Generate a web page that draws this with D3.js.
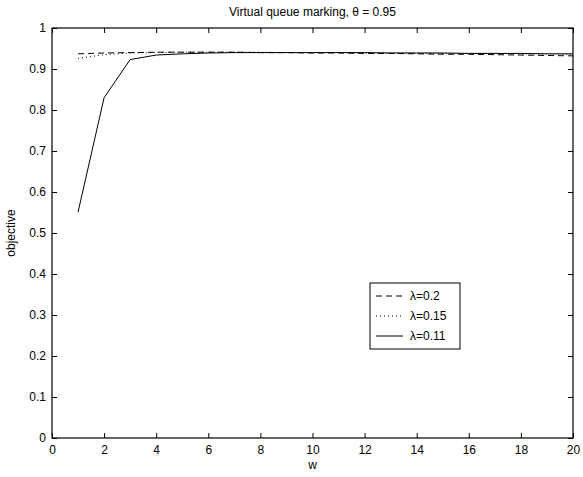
<!DOCTYPE html>
<html>
<head>
<meta charset="utf-8">
<script src="https://cdn.jsdelivr.net/npm/d3@7"></script>
<style>
  body { margin: 0; background: #fff; }
  text { font-family: "Liberation Sans", Arial, sans-serif; }
</style>
</head>
<body>
<svg width="583" height="477"></svg>
<script>
const wValues = d3.range(1, 21);
const lambda02 = [0.937, 0.939, 0.940, 0.941, 0.941, 0.941, 0.941, 0.940, 0.940, 0.939,
  0.939, 0.938, 0.938, 0.937, 0.936, 0.936, 0.935, 0.934, 0.933, 0.932];
const lambda015 = [0.926, 0.935, 0.939, 0.940, 0.941, 0.941, 0.941, 0.941, 0.940, 0.940,
  0.940, 0.939, 0.939, 0.939, 0.938, 0.938, 0.938, 0.937, 0.937, 0.936];
const lambda011 = [0.551, 0.830, 0.923, 0.934, 0.937, 0.939, 0.940, 0.940, 0.940, 0.940,
  0.940, 0.940, 0.939, 0.939, 0.939, 0.938, 0.938, 0.938, 0.937, 0.937];
const seriesNames = ["λ=0.2", "λ=0.15", "λ=0.11"];
const xTicks = d3.range(0, 21, 2);
const yTicks = d3.range(0, 11).map(d => d / 10);

const svg = d3.select("svg");
const plotLeft = 52, plotRight = 573, plotTop = 28, plotBottom = 438;

const x = d3.scaleLinear().domain([0, 20]).range([plotLeft, plotRight]);
const y = d3.scaleLinear().domain([0, 1]).range([plotBottom, plotTop]);

const series = [
  { name: seriesNames[0], values: lambda02, dash: "6,4" },
  { name: seriesNames[1], values: lambda015, dash: "1,3" },
  { name: seriesNames[2], values: lambda011, dash: null }
];

// axes with inward ticks, MATLAB style
svg.append("g")
  .attr("transform", `translate(0,${plotBottom})`)
  .call(d3.axisBottom(x).tickValues(xTicks).tickSizeInner(-5).tickSizeOuter(0).tickPadding(7).tickFormat(d3.format("d")))
  .call(g => g.select(".domain").remove());
svg.append("g")
  .attr("transform", `translate(0,${plotTop})`)
  .call(d3.axisTop(x).tickValues(xTicks).tickSizeInner(-5).tickSizeOuter(0).tickFormat(""))
  .call(g => g.select(".domain").remove());
svg.append("g")
  .attr("transform", `translate(${plotLeft},0)`)
  .call(d3.axisLeft(y).tickValues(yTicks).tickSizeInner(-5).tickSizeOuter(0).tickPadding(6).tickFormat(d => d === 0 || d === 1 ? d3.format("d")(d) : d3.format(".1f")(d)))
  .call(g => g.select(".domain").remove());
svg.append("g")
  .attr("transform", `translate(${plotRight},0)`)
  .call(d3.axisRight(y).tickValues(yTicks).tickSizeInner(-5).tickSizeOuter(0).tickFormat(""))
  .call(g => g.select(".domain").remove());

svg.selectAll(".tick text").style("font-size", "12px").attr("fill", "#000");
svg.selectAll(".tick line").attr("stroke", "#000");

svg.append("rect")
  .attr("x", plotLeft).attr("y", plotTop)
  .attr("width", plotRight - plotLeft).attr("height", plotBottom - plotTop)
  .attr("fill", "none").attr("stroke", "#000").attr("stroke-width", 1.2);

const line = d3.line()
  .x((d, i) => x(wValues[i]))
  .y(d => y(d));

svg.append("g")
  .selectAll("path")
  .data(series)
  .join("path")
  .attr("d", d => line(d.values))
  .attr("fill", "none")
  .attr("stroke", "#000")
  .attr("stroke-width", 1)
  .attr("stroke-dasharray", d => d.dash);

// legend
const legend = svg.append("g").attr("transform", "translate(370,283)");
legend.append("rect")
  .attr("width", 90).attr("height", 66)
  .attr("fill", "#fff").attr("stroke", "#000").attr("stroke-width", 1);
legend.selectAll("line")
  .data(series)
  .join("line")
  .attr("x1", 6).attr("x2", 33)
  .attr("y1", (d, i) => 13 + i * 20).attr("y2", (d, i) => 13 + i * 20)
  .attr("stroke", "#000")
  .attr("stroke-dasharray", d => d.dash);
legend.selectAll("text")
  .data(series)
  .join("text")
  .attr("x", 40)
  .attr("y", (d, i) => 17 + i * 20)
  .style("font-size", "12px")
  .text(d => d.name);

svg.append("text")
  .attr("x", (plotLeft + plotRight) / 2).attr("y", 16)
  .attr("text-anchor", "middle")
  .style("font-size", "12px")
  .text("Virtual queue marking, θ = 0.95");

svg.append("text")
  .attr("x", (plotLeft + plotRight) / 2).attr("y", 469)
  .attr("text-anchor", "middle")
  .style("font-size", "12px")
  .text("w");

svg.append("text")
  .attr("transform", `translate(15,${(plotTop + plotBottom) / 2}) rotate(-90)`)
  .attr("text-anchor", "middle")
  .style("font-size", "12px")
  .text("objective");
</script>
</body>
</html>
